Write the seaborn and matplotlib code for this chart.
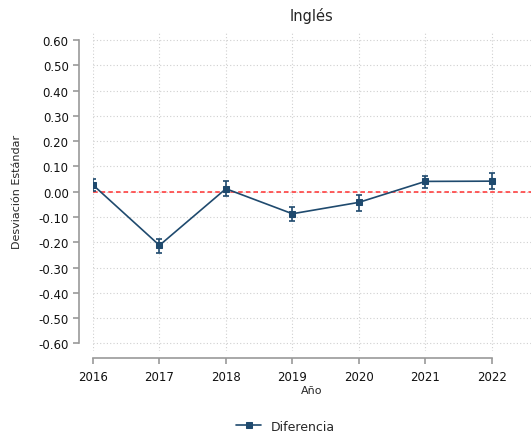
import pandas as pd
import matplotlib
matplotlib.use('Agg')
import matplotlib.pyplot as plt
import seaborn as sns

# --- Data ---
years = [2016, 2017, 2018, 2019, 2020, 2021, 2022]
diferencia = [0.027, -0.212, 0.012, -0.087, -0.042, 0.041, 0.042]
ci_low = [0.004, -0.241, -0.017, -0.114, -0.075, 0.015, 0.011]
ci_high = [0.049, -0.186, 0.042, -0.060, -0.011, 0.064, 0.075]
y_ticks = [-0.6, -0.5, -0.4, -0.3, -0.2, -0.1, 0.0, 0.1, 0.2, 0.3, 0.4, 0.5, 0.6]

df = pd.DataFrame({'Año': years, 'Diferencia': diferencia, 'lo': ci_low, 'hi': ci_high})

sns.set_style('white')
plt.rcParams['font.family'] = ['DejaVu Sans']

line_color = '#1f4a6e'

fig = plt.figure(figsize=(5.31, 4.35), dpi=100)
ax = fig.add_axes([0.1751, 0.1908, 0.8249, 0.7356])

# reference line at zero
ax.axhline(0, color='#ff3030', linestyle=(0, (3, 2)), linewidth=1.1, zorder=1)

sns.lineplot(data=df, x='Año', y='Diferencia', ax=ax, color=line_color,
             marker='s', markersize=4, markeredgecolor=line_color,
             linewidth=1.2, label='Diferencia', zorder=3)
ax.errorbar(df['Año'], df['Diferencia'],
            yerr=[df['Diferencia'] - df['lo'], df['hi'] - df['Diferencia']],
            fmt='none', ecolor=line_color, elinewidth=1.2, capsize=2.5, capthick=1.2, zorder=3)

ax.set_xlim(2016, 2022.59)
ax.set_ylim(-0.630, 0.636)
ax.set_xticks(years)
ax.set_yticks(y_ticks)
ax.set_yticklabels([f'{v:.2f}' for v in y_ticks])

ax.grid(True, color='#d0d0d0', linestyle=(0, (1, 2)), linewidth=0.8)
ax.set_axisbelow(True)

sns.despine(ax=ax, offset={'left': 10, 'bottom': 5}, trim=True)
for side in ['left', 'bottom']:
    ax.spines[side].set_color('#999999')
    ax.spines[side].set_linewidth(1.2)
ax.tick_params(axis='both', bottom=True, left=True, colors='#999999', labelcolor='#111111',
               labelsize=8.5, length=4, width=1.2)
ax.tick_params(axis='x', pad=5)

ax.set_title('Inglés', fontsize=10.5, pad=8)
ax.set_xlabel('Año', fontsize=8, labelpad=1)
ax.set_ylabel('Desviación Estándar', fontsize=8, labelpad=12)

ax.legend(loc='upper center', bbox_to_anchor=(0.44, -0.18), frameon=False, fontsize=9,
          handlelength=2, ncol=1)

plt.savefig('out.png', dpi=100)
plt.close()
